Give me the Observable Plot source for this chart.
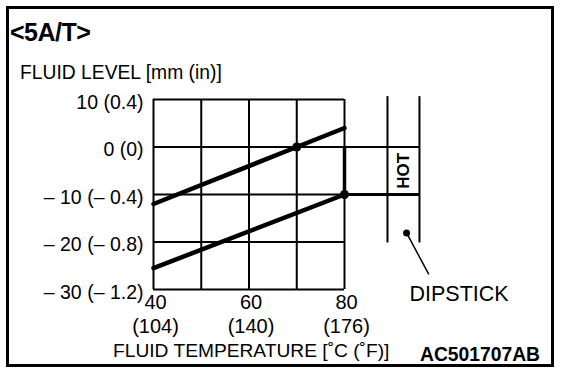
<!DOCTYPE html>
<html>
<head>
<meta charset="utf-8">
<script src="https://cdn.jsdelivr.net/npm/d3@7"></script>
<script src="https://cdn.jsdelivr.net/npm/@observablehq/plot@0.6"></script>
<style>
  html, body { margin: 0; padding: 0; background: #fff; }
  #wrap { position: relative; width: 576px; height: 378px; font-family: "Liberation Sans", Arial, Helvetica, sans-serif; color: #000; }
  #wrap svg { position: absolute; left: 0; top: 0; }
  .border { position: absolute; left: 6px; top: 6px; width: 542px; height: 355px; border: 3px solid #000; }
  .lbl { position: absolute; white-space: nowrap; line-height: 1; }
</style>
</head>
<body>
<div id="wrap">
  <div class="border"></div>
  <div class="lbl" style="left:10px; top:20px; font-size:25px; font-weight:bold; letter-spacing:-0.5px;">&lt;5A/T&gt;</div>
  <div class="lbl" style="left:20px; top:63px; font-size:19.3px;">FLUID LEVEL [mm (in)]</div>
  <div class="lbl" style="left:113px; top:341px; font-size:19.2px;">FLUID TEMPERATURE [˚C (˚F)]</div>
  <div class="lbl" style="left:420px; top:345px; font-size:19.3px; font-weight:bold;">AC501707AB</div>
</div>
<script>
// Axis ticks and labels
const xTicks = [40, 60, 80];
const xTickC = ["40", "60", "80"];
const xTickF = ["(104)", "(140)", "(176)"];
const xGrid = [40, 50, 60, 70, 80];
const yTicks = [10, 0, -10, -20, -30];
const yTickLabels = ["10 (0.4)", "0 (0)", "– 10 (– 0.4)", "– 20 (– 0.8)", "– 30 (– 1.2)"];

// Fluid level lines (temperature °C, level mm)
const upperTemp = [40, 70, 80];
const upperLevel = [-12, 0, 4];
const lowerTemp = [40, 80];
const lowerLevel = [-25.5, -10];

// Marked points
const markTemp = [70, 80];
const markLevel = [0, -10];

// HOT range on dipstick
const hotRange = [0, -10];
const dipstickX = [89, 95.7];
const dipstickTop = 10.6;
const dipstickBottom = -20.2;
const dipDot = {x: 93, y: -18.1};
const dipLeaderEnd = {x: 97.6, y: -26.7};
const dipLabel = {x: 104, y: -31, text: "DIPSTICK"};
const hotLabel = {x: 92.3, y: -5, text: "HOT"};

const upper = upperTemp.map((t, i) => ({t, v: upperLevel[i]}));
const lower = lowerTemp.map((t, i) => ({t, v: lowerLevel[i]}));
const marks = markTemp.map((t, i) => ({t, v: markLevel[i]}));

const font = "'Liberation Sans', Arial, Helvetica, sans-serif";

const chart = Plot.plot({
  width: 576,
  height: 378,
  marginLeft: 153,
  marginRight: 232,
  marginTop: 99,
  marginBottom: 89,
  x: {domain: [40, 80], axis: null},
  y: {domain: [-30, 10], axis: null},
  style: {fontFamily: font, background: "transparent", color: "#000", overflow: "visible"},
  marks: [
    // grid
    Plot.ruleY(yTicks, {y: d => d, x1: 40, x2: 80, stroke: "#000", strokeWidth: 2}),
    Plot.ruleX(xGrid, {x: d => d, y1: -30, y2: 10, stroke: "#000", strokeWidth: 2}),
    // HOT range connectors
    Plot.ruleY([hotRange[0]], {y: d => d, x1: 80, x2: dipstickX[1], stroke: "#000", strokeWidth: 2}),
    Plot.ruleY([hotRange[1]], {y: d => d, x1: 80, x2: dipstickX[1], stroke: "#000", strokeWidth: 3}),
    Plot.ruleX([80], {x: d => d, y1: hotRange[1], y2: hotRange[0], stroke: "#000", strokeWidth: 3.5}),
    // dipstick
    Plot.ruleX(dipstickX, {x: d => d, y1: dipstickBottom, y2: dipstickTop, stroke: "#000", strokeWidth: 2}),
    Plot.text([hotLabel], {x: "x", y: "y", text: "text", rotate: -90, fontSize: 17, fontWeight: "bold", fill: "#000"}),
    Plot.line([dipDot, dipLeaderEnd], {x: "x", y: "y", stroke: "#000", strokeWidth: 1.5}),
    Plot.dot([dipDot], {x: "x", y: "y", r: 3.5, fill: "#000", stroke: "none"}),
    Plot.text([dipLabel], {x: "x", y: "y", text: "text", fontSize: 21.5, fill: "#000"}),
    // data lines
    Plot.line(upper, {x: "t", y: "v", stroke: "#000", strokeWidth: 4.5}),
    Plot.line(lower, {x: "t", y: "v", stroke: "#000", strokeWidth: 4.5}),
    Plot.dot(marks, {x: "t", y: "v", r: 4.5, fill: "#000", stroke: "none"}),
    // tick labels
    Plot.text(yTicks, {x: 40, y: d => d, text: (d, i) => yTickLabels[i], textAnchor: "end", dx: -10, dy: 3, fontSize: 19.5, fill: "#000"}),
    Plot.text(xTicks, {x: d => d, y: -30, text: (d, i) => xTickC[i], dx: 2, dy: 13, fontSize: 20, fill: "#000"}),
    Plot.text(xTicks, {x: d => d, y: -30, text: (d, i) => xTickF[i], dx: 2, dy: 37, fontSize: 20, fill: "#000"})
  ]
});
document.getElementById("wrap").appendChild(chart);
</script>
</body>
</html>
